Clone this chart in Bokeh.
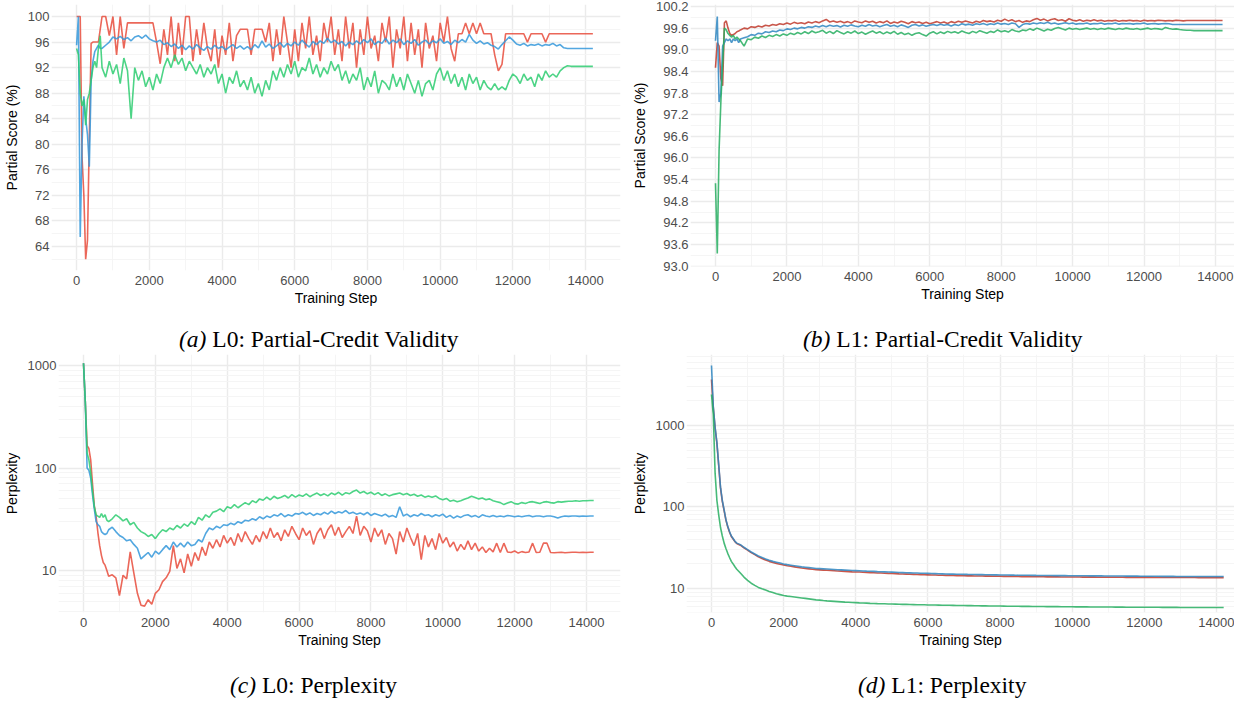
from bokeh.plotting import figure
from bokeh.layouts import column, row
from bokeh.models import Range1d, FixedTicker, NumeralTickFormatter, Div
from bokeh.embed import file_html
from bokeh.resources import INLINE

# ---------------- data ----------------
# Steps: 0..650 every 50 (early), then 700..14200 every 100 (late)
EARLY_STEPS = list(range(0, 700, 50))

X_TICKS = [0, 2000, 4000, 6000, 8000, 10000, 12000, 14000]
X_MINOR = [1000, 3000, 5000, 7000, 9000, 11000, 13000]

# (a) L0: Partial-Credit Validity
A_RED_EARLY = [100, 100, 100, 78, 72, 62, 65, 81, 95.8, 96, 96, 96, 96, 98]
A_RED_LATE = [100, 100, 97, 100, 94, 100, 95, 99, 99, 99,
              99, 99, 99, 99, 99, 96, 92.6, 98, 94, 100,
              93, 99, 94, 100, 100, 93, 98, 94, 99, 95,
              93, 98, 92, 97, 94, 99, 93, 97, 98, 98,
              98, 94, 98, 98, 98, 96, 99, 93, 98, 94,
              100, 96, 92, 98, 93, 99, 95, 100, 94, 97,
              93, 99, 96, 100, 94, 98, 93, 100, 95, 99,
              92, 98, 94, 100, 95, 97, 93, 99, 96, 100,
              92, 98, 95, 100, 93, 99, 94, 98, 92, 99,
              95, 97, 93, 99, 96, 100, 95, 93, 97.3, 97.3,
              99, 97.3, 99, 97.3, 99, 97.3, 97.3, 97.3, 94, 91.5,
              92.5, 97.3, 97.3, 97.3, 97.3, 97.3, 97.3, 96, 97.3, 97.3,
              97.3, 97.3, 96, 97.3, 97.3, 97.3, 97.3, 97.3, 97.3, 97.3,
              97.3, 97.3, 97.3, 97.3, 97.3, 97.3]
A_BLUE_EARLY = [95.5, 100, 65.5, 80, 87.5, 84, 81.5, 76.5, 90, 93, 94.5, 95, 95.5, 95]
A_BLUE_LATE = [95, 95.5, 96, 96.8, 96.5, 96.9, 96.4, 96.7, 96.2, 96.8,
               97, 96.6, 97.1, 96.5, 96.2, 96.0, 96.3, 95.6, 95.9, 95.3,
               95.7, 95.0, 95.5, 94.8, 95.4, 94.9, 95.6, 95.1, 94.7, 95.3,
               94.9, 95.5, 95.0, 95.3, 94.8, 95.2, 95.6, 95.0, 95.4, 94.9,
               95.3, 94.8, 95.6, 95.1, 96.2, 95.2, 95.7, 95.0, 95.4, 95.9,
               95.2, 95.8, 95.4, 96.0, 95.5, 96.3, 95.7, 95.2, 96.1, 95.6,
               96.2, 95.8, 96.6, 95.9, 96.3, 95.7, 96.1, 95.4, 96.0, 95.6,
               96.2, 95.7, 96.4, 95.9, 96.5, 95.6, 96.1, 95.8, 96.6, 95.7,
               96.3, 95.9, 96.5, 95.6, 96.2, 95.8, 96.4, 95.5, 96.0, 96.3,
               95.7, 96.2, 95.9, 96.5, 95.8, 96.1, 95.6, 96.3, 95.9, 96.4,
               96.0, 97.2, 96.3, 95.8, 96.2, 95.7, 95.9, 95.5, 95.3, 94.9,
               95.6, 96.2, 96.8, 96.3, 95.7, 95.5, 95.8, 95.4, 95.6, 95.5,
               95.7, 95.4, 95.6, 95.5, 95.8, 95.4, 95.6, 95.1, 95.0, 95.0,
               95.0, 95.0, 95.0, 95.0, 95.0, 95.0]
A_GREEN_EARLY = [95, 94, 88, 86, 87, 83, 87, 88, 90, 92, 93, 92, 95, 97]
A_GREEN_LATE = [92, 90.5, 93, 91, 92.5, 89.5, 93.5, 91.5, 84, 92,
                90, 91.5, 89, 90.5, 88.5, 91, 89.5, 92, 93.5, 92,
                94, 92.5, 93.5, 91.5, 93, 92, 91, 92.5, 90.5, 92,
                91, 92.5, 89.5, 91, 88, 90.5, 89.5, 91.5, 89, 90,
                88.5, 90.5, 88, 89.5, 87.5, 90, 88.5, 91.5, 90, 92,
                90.5, 92.5, 91, 93, 90.5, 92, 91.5, 93.5, 91, 92.5,
                90.5, 92, 91, 93, 91.5, 92.5, 90, 91.5, 89.5, 91,
                90, 92, 88.5, 90.5, 89, 91.5, 88, 90, 89.5, 88.5,
                91, 89, 90.5, 88.5, 91, 89.5, 88, 90, 87.5, 89.5,
                90, 88.5, 91, 92, 90, 91.5, 89.5, 91, 89, 90.5,
                88.5, 91, 89.5, 90.5, 88.5, 90, 89, 88.5, 89.5, 88.5,
                89, 88.5, 90, 91, 90.5, 89.5, 91, 90, 90.5, 89,
                91, 90, 91.5, 90.5, 91, 90.5, 91.5, 92, 92.3, 92.2,
                92.2, 92.2, 92.2, 92.2, 92.2, 92.2]
A_Y_TICKS = [64, 68, 72, 76, 80, 84, 88, 92, 96, 100]
A_Y_MINOR = [62, 66, 70, 74, 78, 82, 86, 90, 94, 98]

# (b) L1: Partial-Credit Validity
B_RED_EARLY = [98.5, 99.2, 99.1, 98.2, 98.0, 99.75, 99.8, 99.6, 99.45, 99.4, 99.42, 99.45, 99.5, 99.52]
B_RED_LATE = [99.55, 99.6, 99.58, 99.64, 99.62, 99.66, 99.63, 99.68, 99.66, 99.7,
              99.68, 99.72, 99.7, 99.74, 99.71, 99.76, 99.73, 99.75, 99.72, 99.77,
              99.74, 99.78, 99.75, 99.8, 99.84, 99.77, 99.8, 99.76, 99.79, 99.75,
              99.78, 99.74, 99.8, 99.77, 99.75, 99.8, 99.76, 99.79, 99.74, 99.78,
              99.75, 99.8, 99.73, 99.77, 99.74, 99.79, 99.76, 99.72, 99.78, 99.75,
              99.77, 99.73, 99.76, 99.72, 99.75, 99.78, 99.74, 99.77, 99.73, 99.78,
              99.75, 99.79, 99.76, 99.8, 99.77, 99.74, 99.79, 99.76, 99.81, 99.78,
              99.8, 99.77, 99.82, 99.79, 99.85, 99.8, 99.83, 99.78, 99.81, 99.76,
              99.8, 99.78, 99.83, 99.87, 99.82, 99.85, 99.8, 99.84, 99.86, 99.81,
              99.83, 99.79, 99.86, 99.82, 99.8, 99.83, 99.79, 99.82, 99.8, 99.83,
              99.8, 99.82, 99.79, 99.81, 99.8, 99.82, 99.79, 99.81, 99.8, 99.82,
              99.8, 99.81, 99.79, 99.82, 99.8, 99.81, 99.8, 99.82, 99.81, 99.8,
              99.81, 99.8, 99.82, 99.81, 99.8, 99.81, 99.81, 99.81, 99.81, 99.81,
              99.81, 99.81, 99.81, 99.81, 99.81, 99.81]
B_BLUE_EARLY = [99.25, 99.92, 97.55, 97.8, 99.1, 99.2, 99.3, 99.25, 99.3, 99.2, 99.3, 99.25, 99.3, 99.2]
B_BLUE_LATE = [99.3, 99.33, 99.36, 99.42, 99.4, 99.46, 99.44, 99.5, 99.48, 99.52,
               99.5, 99.55, 99.53, 99.58, 99.56, 99.6, 99.58, 99.62, 99.6, 99.64,
               99.62, 99.66, 99.63, 99.67, 99.64, 99.68, 99.65, 99.67, 99.63, 99.68,
               99.65, 99.69, 99.66, 99.64, 99.68, 99.65, 99.7, 99.66, 99.68, 99.64,
               99.67, 99.7, 99.65, 99.68, 99.64, 99.69, 99.66, 99.62, 99.68, 99.7,
               99.66, 99.69, 99.65, 99.68, 99.7, 99.67, 99.71, 99.68, 99.7, 99.66,
               99.7, 99.67, 99.72, 99.69, 99.71, 99.68, 99.72, 99.7, 99.73, 99.69,
               99.72, 99.7, 99.74, 99.71, 99.73, 99.7, 99.74, 99.72, 99.62, 99.7,
               99.73, 99.71, 99.74, 99.72, 99.75, 99.73, 99.76, 99.72, 99.74, 99.71,
               99.73, 99.75, 99.72, 99.74, 99.71, 99.73, 99.72, 99.74, 99.71, 99.73,
               99.72, 99.74, 99.71, 99.73, 99.72, 99.74, 99.71, 99.73, 99.72, 99.73,
               99.71, 99.73, 99.72, 99.74, 99.71, 99.72, 99.73, 99.71, 99.72, 99.73,
               99.72, 99.7, 99.7, 99.7, 99.7, 99.7, 99.7, 99.7, 99.7, 99.7,
               99.7, 99.7, 99.7, 99.7, 99.7, 99.7]
B_GREEN_EARLY = [95.3, 93.35, 96.2, 97.55, 98.6, 99.6, 99.55, 99.45, 99.4, 99.35, 99.4, 99.3, 99.35, 99.3]
B_GREEN_LATE = [99.25, 99.1, 99.3, 99.28, 99.35, 99.32, 99.38, 99.34, 99.4, 99.37,
                99.42, 99.38, 99.44, 99.4, 99.46, 99.42, 99.48, 99.44, 99.5, 99.45,
                99.52, 99.47, 99.5, 99.54, 99.46, 99.51, 99.45, 99.53, 99.48, 99.44,
                99.5, 99.46, 99.52, 99.45, 99.49, 99.43, 99.48, 99.52, 99.46, 99.5,
                99.44, 99.49, 99.45, 99.51, 99.43, 99.48, 99.42, 99.46, 99.4, 99.45,
                99.47, 99.42, 99.38, 99.46, 99.5, 99.44, 99.49, 99.45, 99.51, 99.47,
                99.5, 99.46, 99.52, 99.48, 99.45, 99.51, 99.47, 99.53, 99.49, 99.46,
                99.51, 99.48, 99.55, 99.5, 99.53, 99.49, 99.56, 99.52, 99.5, 99.55,
                99.53, 99.58, 99.54, 99.6, 99.56, 99.52, 99.57, 99.54, 99.59, 99.62,
                99.58, 99.55, 99.6, 99.57, 99.59, 99.56, 99.58, 99.6, 99.57, 99.59,
                99.56, 99.59, 99.57, 99.6, 99.58, 99.56, 99.59, 99.57, 99.6, 99.58,
                99.57, 99.59, 99.56, 99.58, 99.6, 99.57, 99.59, 99.58, 99.56, 99.62,
                99.59, 99.57, 99.58, 99.56, 99.55, 99.54, 99.54, 99.53, 99.53, 99.53,
                99.53, 99.53, 99.53, 99.53, 99.53, 99.53]
B_Y_TICKS = [93.0, 93.6, 94.2, 94.8, 95.4, 96.0, 96.6, 97.2, 97.8, 98.4, 99.0, 99.6, 100.2]
B_Y_MINOR = [93.3, 93.9, 94.5, 95.1, 95.7, 96.3, 96.9, 97.5, 98.1, 98.7, 99.3, 99.9]

# (c) L0: Perplexity
C_RED_EARLY = [1050, 440, 165, 155, 120, 70, 43, 34, 23.5, 17.5, 14, 12, 11.3, 10]
C_RED_LATE = [8.8, 9.1, 8.5, 5.7, 9.0, 8.3, 15.2, 9.5, 6.0, 4.6,
              4.5, 5.2, 4.7, 6.0, 6.5, 7.8, 8.5, 9.8, 17.5, 10.5,
              13, 9.5, 14.5, 11, 15, 12.5, 17, 14, 19, 16.5,
              20, 17, 22, 18.5, 21, 17.5, 23, 19, 24, 20.5,
              18, 22, 19, 24, 20.5, 26, 21, 23.5, 19.5, 25,
              21.5, 27, 23, 20, 26, 22, 24.5, 18, 23, 26,
              20.5, 25, 28, 22, 26.5, 21, 24, 27, 23, 34,
              22, 27, 24.5, 19, 26, 21.5, 25, 18, 23, 20.5,
              14.5, 24, 19, 26, 21, 17.5, 23, 12.8, 22, 17,
              20.5, 16, 23, 18.5, 21, 17, 19, 15.5, 18, 16,
              19.5, 16, 18.5, 15.5, 17, 15, 16.5, 15.2, 18.5, 15,
              18.5, 15.2, 15, 15.5, 14.8, 15.3, 15, 15.2, 18.5, 15,
              15.1, 18.5, 18.5, 15, 14.9, 15, 15.1, 14.9, 15, 15.1,
              15.1, 15, 15.1, 15, 15.1, 15.1]
C_BLUE_EARLY = [1050, 440, 100, 95, 80, 55, 40, 30, 28, 27, 24, 23, 22.5, 23]
C_BLUE_LATE = [25, 26.5, 24, 22, 21, 19.5, 20, 18, 16.5, 13,
               14, 15, 13.5, 15.5, 14.5, 16, 17.5, 16, 19, 17,
               18.5, 17, 19, 17.5, 18, 20, 19, 23, 26, 25,
               27, 26, 28, 27.5, 29, 28, 30, 29, 31, 30.5,
               32, 31, 33.5, 32, 34, 33, 35, 34, 36, 33.5,
               35, 34, 36, 35.5, 37, 35, 36.5, 34.5, 36, 35,
               37, 35.5, 38, 36, 37.5, 36.5, 38.5, 36, 37, 35.5,
               36.5, 35, 37, 34.5, 36, 35, 34, 35.5, 33.5, 34.5,
               33, 42, 34, 35.5, 33.5, 35, 34, 36, 34.5, 35,
               33.5, 35, 34, 35.5, 33, 34.5, 32.5, 34, 33, 34.5,
               35, 33.5, 34.5, 33, 35, 34, 33.5, 34.5, 33.5, 34,
               33.5, 34.5, 34, 33.5, 34, 33.5, 34, 34.5, 33.5, 34,
               34, 33.5, 34, 34, 33.5, 32.5, 33.5, 34, 33.8, 34,
               34, 33.8, 34, 33.9, 34, 34]
C_GREEN_EARLY = [1050, 440, 140, 120, 90, 60, 42, 35, 34, 33, 36, 33, 35, 31]
C_GREEN_LATE = [30, 32, 35, 33, 30.5, 32, 28, 29.5, 26, 24,
                23, 21.5, 22.5, 20.5, 23, 25, 24, 26, 25, 27.5,
                26, 28.5, 27, 30, 28, 33, 31, 35, 33, 37,
                38, 40, 37.5, 42, 40.5, 44, 41, 43.5, 46, 44,
                48, 46, 50, 48.5, 52, 49, 53, 50.5, 52, 54,
                51, 55, 52, 54.5, 53, 56, 52.5, 55, 57, 54,
                56, 53.5, 57, 55, 58, 54.5, 57.5, 56, 59, 61,
                57, 59, 56, 58, 55, 57.5, 54, 56, 53.5, 55,
                56, 57, 55, 56.5, 54, 55.5, 53, 54.5, 52, 53.5,
                52, 53.5, 50.5, 49, 50.5, 47.5, 48.5, 47, 48, 49.5,
                51, 53, 51.5, 50, 51, 49, 50, 48, 47, 46,
                44, 45.5, 47, 45, 44.5, 46, 45, 46.5, 47, 46,
                45, 46.5, 47, 46, 45.5, 47, 46.5, 47, 47.5, 47.5,
                48, 47.5, 48, 48, 48.2, 48.2]

# (d) L1: Perplexity
D_RED_EARLY = [3660, 1650, 930, 600, 320, 170, 117, 90, 69, 57, 49, 43.5, 40.5, 37.5]
D_RED_LATE = [35.6, 34, 31.5, 29.5, 27.5, 26, 24.4, 23.3, 22.3, 21.5,
              20.8, 20.3, 19.8, 19.4, 19.0, 18.7, 18.4, 18.1, 17.8, 17.6,
              17.4, 17.2, 17.0, 16.9, 16.8, 16.7, 16.6, 16.5, 16.4, 16.3,
              16.2, 16.1, 16.0, 15.95, 15.9, 15.8, 15.7, 15.65, 15.6, 15.5,
              15.45, 15.4, 15.3, 15.25, 15.2, 15.1, 15.05, 15.0, 14.95, 14.9,
              14.85, 14.8, 14.75, 14.7, 14.65, 14.6, 14.55, 14.5, 14.47, 14.44,
              14.41, 14.38, 14.35, 14.32, 14.29, 14.27, 14.25, 14.23, 14.21, 14.19,
              14.17, 14.15, 14.13, 14.11, 14.09, 14.07, 14.05, 14.03, 14.01, 13.99,
              13.97, 13.96, 13.94, 13.93, 13.92, 13.9, 13.89, 13.88, 13.87, 13.86,
              13.85, 13.84, 13.83, 13.82, 13.81, 13.8, 13.79, 13.78, 13.77, 13.76,
              13.75, 13.74, 13.73, 13.72, 13.72, 13.71, 13.7, 13.7, 13.69, 13.69,
              13.68, 13.68, 13.67, 13.67, 13.66, 13.66, 13.65, 13.65, 13.64, 13.64,
              13.63, 13.63, 13.62, 13.62, 13.62, 13.61, 13.61, 13.61, 13.6, 13.6,
              13.6, 13.6, 13.6, 13.6, 13.6, 13.6]
D_BLUE_EARLY = [5440, 1700, 950, 620, 330, 175, 120, 92, 70, 58, 50, 44, 41, 38]
D_BLUE_LATE = [36, 34.5, 32, 30, 28, 26.5, 25, 24, 23, 22.2,
               21.5, 21, 20.5, 20, 19.6, 19.3, 19, 18.7, 18.4, 18.2,
               18, 17.8, 17.6, 17.5, 17.4, 17.3, 17.2, 17.1, 17.0, 16.9,
               16.8, 16.7, 16.6, 16.55, 16.5, 16.4, 16.3, 16.25, 16.2, 16.1,
               16.05, 16.0, 15.9, 15.85, 15.8, 15.7, 15.65, 15.6, 15.55, 15.5,
               15.45, 15.4, 15.35, 15.3, 15.25, 15.2, 15.15, 15.1, 15.05, 15.0,
               14.98, 14.95, 14.92, 14.9, 14.87, 14.85, 14.82, 14.8, 14.78, 14.75,
               14.72, 14.7, 14.68, 14.65, 14.63, 14.6, 14.58, 14.56, 14.55, 14.53,
               14.51, 14.5, 14.48, 14.46, 14.45, 14.43, 14.42, 14.4, 14.39, 14.38,
               14.37, 14.36, 14.35, 14.34, 14.33, 14.32, 14.31, 14.3, 14.29, 14.28,
               14.27, 14.26, 14.25, 14.24, 14.23, 14.22, 14.21, 14.2, 14.19, 14.18,
               14.17, 14.16, 14.15, 14.14, 14.13, 14.12, 14.11, 14.1, 14.09, 14.08,
               14.07, 14.06, 14.05, 14.05, 14.04, 14.04, 14.03, 14.03, 14.02, 14.02,
               14.01, 14.01, 14.0, 14.0, 14.0, 14.0]
D_GREEN_EARLY = [2400, 1360, 260, 120, 80, 56, 44, 36, 31, 27, 24, 21.5, 20, 18.5]
D_GREEN_LATE = [17.2, 15.5, 13.8, 12.6, 11.6, 10.9, 10.3, 9.9, 9.55, 9.2,
                8.9, 8.6, 8.4, 8.2, 8.05, 7.95, 7.85, 7.75, 7.65, 7.55,
                7.45, 7.35, 7.25, 7.2, 7.12, 7.05, 7.0, 6.95, 6.9, 6.85,
                6.8, 6.76, 6.72, 6.7, 6.66, 6.63, 6.6, 6.57, 6.55, 6.52,
                6.5, 6.48, 6.46, 6.44, 6.42, 6.4, 6.38, 6.37, 6.35, 6.34,
                6.32, 6.31, 6.3, 6.28, 6.27, 6.26, 6.25, 6.23, 6.22, 6.21,
                6.2, 6.19, 6.18, 6.17, 6.16, 6.15, 6.14, 6.13, 6.12, 6.11,
                6.1, 6.09, 6.08, 6.08, 6.07, 6.06, 6.05, 6.05, 6.04, 6.03,
                6.03, 6.02, 6.01, 6.01, 6.0, 6.0, 5.99, 5.99, 5.98, 5.98,
                5.97, 5.97, 5.96, 5.96, 5.95, 5.95, 5.94, 5.94, 5.93, 5.93,
                5.92, 5.92, 5.92, 5.91, 5.91, 5.9, 5.9, 5.9, 5.89, 5.89,
                5.89, 5.88, 5.88, 5.88, 5.87, 5.87, 5.87, 5.87, 5.86, 5.86,
                5.86, 5.86, 5.86, 5.85, 5.85, 5.85, 5.85, 5.85, 5.85, 5.85,
                5.85, 5.85, 5.85, 5.85, 5.85, 5.85]

LOG_TICKS = [10, 100, 1000]
LOG_MINOR = [3, 4, 5, 6, 7, 8, 9, 20, 30, 40, 50, 60, 70, 80, 90,
             200, 300, 400, 500, 600, 700, 800, 900,
             2000, 3000, 4000, 5000, 6000, 7000, 8000, 9000]

PAL_L0 = {"red": "#E74C3C", "blue": "#3498DB", "green": "#2ECC71"}
PAL_L1 = {"red": "#C0392B", "blue": "#2E86C1", "green": "#27AE60"}

SANS = "Liberation Sans"
SERIF = "Liberation Serif"


def steps_for(early, late):
    return EARLY_STEPS[:len(early)] + [700 + 100 * i for i in range(len(late))]


def make_panel(fw, fh, bl, br, bt, bb, xr, yr, log, yticks, yminor, yfmt,
               ylabel, series, pal):
    p = figure(frame_width=fw, frame_height=fh,
               min_border_left=bl, min_border_right=br,
               min_border_top=bt, min_border_bottom=bb,
               x_range=Range1d(*xr), y_range=Range1d(*yr),
               y_axis_type="log" if log else "linear",
               output_backend="svg", toolbar_location=None, tools="")
    p.outline_line_color = None
    p.background_fill_color = "white"
    p.border_fill_color = "white"

    xt = FixedTicker(ticks=X_TICKS, minor_ticks=X_MINOR)
    yt = FixedTicker(ticks=yticks, minor_ticks=yminor)
    p.xaxis.ticker = xt
    p.yaxis.ticker = yt
    p.xgrid.ticker = xt
    p.ygrid.ticker = yt
    p.xaxis.formatter = NumeralTickFormatter(format="0")
    p.yaxis.formatter = NumeralTickFormatter(format=yfmt)

    for g in (p.xgrid, p.ygrid):
        g.grid_line_color = "#EBEBEB"
        g.grid_line_width = 1.4
        g.minor_grid_line_color = "#F4F4F4"
        g.minor_grid_line_width = 0.9

    for ax in p.axis:
        ax.axis_line_color = None
        ax.major_tick_line_color = None
        ax.minor_tick_line_color = None
        ax.major_tick_out = 0
        ax.major_tick_in = 0
        ax.minor_tick_out = 0
        ax.minor_tick_in = 0
        ax.major_label_text_font = SANS
        ax.major_label_text_font_size = "13px"
        ax.major_label_text_color = "#4D4D4D"
        ax.axis_label_text_font = SANS
        ax.axis_label_text_font_size = "14px"
        ax.axis_label_text_font_style = "normal"
        ax.axis_label_text_color = "#000000"
    p.xaxis.axis_label = "Training Step"
    p.xaxis.major_label_standoff = 5
    p.xaxis.axis_label_standoff = 2
    p.yaxis.axis_label = ylabel
    p.yaxis.major_label_standoff = 2
    p.yaxis.axis_label_standoff = 5

    for name in ("red", "blue", "green"):
        early, late = series[name]
        xs = steps_for(early, late)
        ys = list(early) + list(late)
        p.line(xs, ys, line_color=pal[name], line_width=1.6, line_alpha=0.85)
    return p


def caption(tag, text, width, height, pad_left, pad_top, line_h):
    html = ('<div style="white-space:nowrap;line-height:%dpx;height:%dpx;'
            'padding-left:%dpx;padding-top:%dpx;">'
            '<span style="font-style:italic">%s</span> %s</div>') % (line_h, line_h, pad_left, pad_top, tag, text)
    return Div(text=html, width=width, height=height, margin=0,
               styles={"font-family": SERIF, "font-size": "23.5px", "color": "#000000",
                       "overflow": "visible"})


pa = make_panel(569, 266, 45, 8, 0, 40, (-690, 14960), (60.24, 101.88), False,
                A_Y_TICKS, A_Y_MINOR, "0", "Partial Score (%)",
                {"red": (A_RED_EARLY, A_RED_LATE), "blue": (A_BLUE_EARLY, A_BLUE_LATE),
                 "green": (A_GREEN_EARLY, A_GREEN_LATE)}, PAL_L0)

pb = make_panel(544, 262, 59, 0, 4, 40, (-700, 14534), (92.99, 100.255), False,
                B_Y_TICKS, B_Y_MINOR, "0.0", "Partial Score (%)",
                {"red": (B_RED_EARLY, B_RED_LATE), "blue": (B_BLUE_EARLY, B_BLUE_LATE),
                 "green": (B_GREEN_EARLY, B_GREEN_LATE)}, PAL_L1)

pc = make_panel(562, 258, 52, 8, 2, 38, (-696, 14946), (3.9, 1280), True,
                LOG_TICKS, LOG_MINOR, "0", "Perplexity",
                {"red": (C_RED_EARLY, C_RED_LATE), "blue": (C_BLUE_EARLY, C_BLUE_LATE),
                 "green": (C_GREEN_EARLY, C_GREEN_LATE)}, PAL_L0)

pd_ = make_panel(548, 258, 55, 0, 2, 38, (-693, 14500), (5.07, 7430), True,
                 LOG_TICKS, LOG_MINOR, "0", "Perplexity",
                 {"red": (D_RED_EARLY, D_RED_LATE), "blue": (D_BLUE_EARLY, D_BLUE_LATE),
                  "green": (D_GREEN_EARLY, D_GREEN_LATE)}, PAL_L1)

cap_a = caption("(a)", "L0: Partial-Credit Validity", 622, 46, 179, 21, 24)
cap_b = caption("(b)", "L1: Partial-Credit Validity", 603, 46, 181, 21, 24)
cap_c = caption("(c)", "L0: Perplexity", 622, 42, 230, 28, 14)
cap_d = caption("(d)", "L1: Perplexity", 603, 42, 236, 28, 14)

layout = column(row(pa, pb, spacing=0),
                row(cap_a, cap_b, spacing=0),
                row(pc, pd_, spacing=0),
                row(cap_c, cap_d, spacing=0),
                spacing=0)

open("out.html", "w").write(file_html(layout, INLINE))
